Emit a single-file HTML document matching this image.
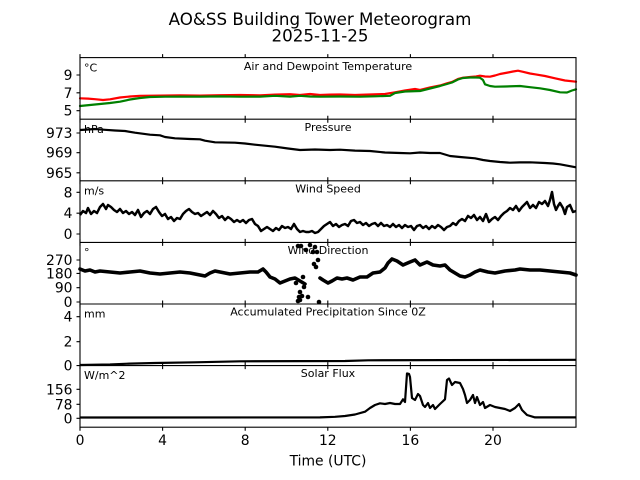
<!DOCTYPE html>
<html><head><meta charset="utf-8"><style>
html,body{margin:0;padding:0;background:#fff;}
svg{display:block;font-family:"DejaVu Sans","Liberation Sans",sans-serif;}
.t{font-size:13.9px;fill:#000;}
.s{font-size:11px;fill:#000;}
</style></head><body>
<svg width="640" height="480" viewBox="0 0 640 480" xmlns="http://www.w3.org/2000/svg">
<rect width="640" height="480" fill="#fff"/>
<text x="320" y="25" text-anchor="middle" style="font-size:16.7px">AO&amp;SS Building Tower Meteorogram</text>
<text x="320" y="41.7" text-anchor="middle" style="font-size:16.7px">2025-11-25</text>

<!-- Panel 1 temperature -->
<g fill="none" stroke-linejoin="round" stroke-linecap="round">
<polyline stroke="#ff0000" stroke-width="2.2" points="80,98.3 88,98.6 95,99.2 103,100 110,99.3 120,97.5 130,96.5 140,95.8 160,95.6 180,95.4 200,95.6 220,95.2 240,95 260,95.3 275,94.6 290,94.2 300,95 310,94 320,95 330,94.6 340,94.5 355,95 370,94.5 385,94 395,92.3 405,90.5 415,89 420,90 430,87.5 440,85.5 447,83.3 452,82 458,79 463,77.7 470,77 476,76.5 480,75.7 485,76.5 490,76.7 495,75.5 500,74 508,72.5 513,71.5 518,70.7 523,71.8 530,73.5 535,74.3 545,76 555,78.3 565,80.5 576,81.7"/>
<polyline stroke="#008000" stroke-width="2.2" points="80,106 90,105 100,104 110,103 120,101.7 130,99.5 140,98 150,97 165,96.7 180,96.6 200,96.6 220,96.4 240,96.7 260,96.6 275,95.8 290,96.6 300,95.8 310,96.5 320,96.7 340,96.5 360,96.7 375,96.3 390,95.8 395,93 405,91.5 420,91 430,88.5 440,86 447,84 452,82.5 458,79.5 463,78 470,77.5 476,77.5 480,77.7 483,80 485,84.3 490,86 495,86.7 505,86.5 520,86 530,87.2 540,88.3 550,90 560,92.3 567,92.5 572,90.5 576,89.3"/>
</g>

<!-- Panel 2 pressure -->
<polyline fill="none" stroke="#000" stroke-width="2.2" stroke-linejoin="round" points="80,130 88,129.5 95,129 105,129.8 115,130.5 125,131 135,132.7 150,134.7 160,135.3 165,137 175,138.3 190,139 200,139.3 205,140.7 215,142.3 235,142.7 245,143.5 255,144.7 265,145.7 275,146.7 288,148.5 300,150 315,149.5 330,150 340,149.7 355,150.6 370,151 385,152.5 400,153 410,153.3 420,152.5 430,153 440,153 445,154.5 450,156 460,157 475,158.3 483,160 490,161 500,162 510,162.7 520,162.4 530,162.3 545,163 553,163.5 560,164.3 568,165.8 576,167.3"/>

<!-- Panel 3 wind speed -->
<polyline fill="none" stroke="#000" stroke-width="2.5" stroke-linejoin="round" points="80,215 83,211 86,213 88,208 91,214 94,211 97,213 100,207 103,204 106,209 108,205 111,207 114,210 117,212 120,209 123,213 126,211 129,214 132,212 135,215 138,210 141,217 144,213 147,211 150,214 153,209 156,207 159,212 162,216 165,214 168,219 171,217 174,221 177,218 180,219 183,214 186,211 189,209 192,212 195,214 198,213 201,216 204,214 207,212 210,215 213,211 216,214 219,218 222,216 225,220 228,217 231,219 234,222 237,220 240,222 243,220 246,223 249,220 252,219 255,224 258,226 261,231 264,229 267,227 270,229 273,231 276,228 279,230 282,226 285,228 288,227 291,229 294,224 297,229 300,232 303,231 306,232 309,232 312,231 315,233 318,232 321,229 324,226 327,224 330,222 333,226 336,224 339,227 342,225 345,224 348,226 351,221 354,220 357,223 360,222 363,225 366,223 369,226 372,224 375,223 378,226 381,223 384,226 387,225 390,227 393,224 396,227 399,225 402,228 405,225 408,227 411,226 414,230 417,226 420,225 423,228 426,226 429,229 432,226 435,228 438,225 441,227 444,230 447,227 450,226 453,223 456,225 459,221 462,219 465,221 468,216 471,218 474,215 477,220 480,217 483,221 486,214 489,222 492,219 495,217 498,220 501,216 504,213 507,211 510,208 513,210 516,206 519,211 522,207 525,204 527,202 530,208 533,205 536,208 539,202 542,204 545,201 548,206 550,200 552,192 554,204 556,210 558,206 560,203 563,208 565,214 567,207 570,205 573,212 576,211"/>

<!-- Panel 4 wind direction -->
<g fill="none" stroke="#000" stroke-width="3.6" stroke-linejoin="round" stroke-linecap="round">
<polyline points="80,269 85,271 90,270 95,272 100,271 110,272 120,273 130,272 140,271 150,273 160,274 170,273 180,272 190,273 200,275 205,276 210,273 215,271 220,272 230,274 240,273 250,272 258,272 263,269 266,272 270,277 275,279 280,283 285,281 290,279 295,278 300,281 305,284"/>
<polyline points="320,278 323,280 328,283 332,281 337,278 342,279 347,278 353,280 360,277 367,277 373,273 380,272 385,268 388,263 392,259 397,261 403,265 410,262 415,260 420,265 427,262 433,265 440,266 445,265 450,270 455,273 460,276 465,277 470,275 475,272 480,270 488,272 495,273 505,271 515,270 520,269 530,270 540,270 550,271 560,272 570,273 576,275"/>
</g>
<g fill="#000">
<circle cx="298" cy="246" r="2.3"/><circle cx="301" cy="246" r="2.3"/><circle cx="303" cy="277" r="2.3"/>
<circle cx="300" cy="292" r="2.3"/><circle cx="304" cy="287" r="2.3"/><circle cx="299" cy="297" r="2.3"/>
<circle cx="300" cy="300" r="2.3"/><circle cx="298" cy="301" r="2.3"/><circle cx="308" cy="297" r="2.3"/>
<circle cx="313" cy="252" r="2.3"/><circle cx="315" cy="247" r="2.3"/><circle cx="317" cy="252" r="2.3"/>
<circle cx="316" cy="267" r="2.3"/><circle cx="318" cy="260" r="2.3"/><circle cx="319" cy="302" r="2.3"/>
<circle cx="310" cy="245" r="2.3"/><circle cx="306" cy="250" r="2.3"/><circle cx="302" cy="296" r="2.3"/>
<circle cx="314" cy="264" r="2.3"/><circle cx="296" cy="283" r="2.3"/>
</g>

<!-- Panel 5 precipitation -->
<polyline fill="none" stroke="#000" stroke-width="2.2" points="80,365 110,364.5 130,363.6 155,363 195,362.3 240,361.3 345,361 368,360.3 576,359.8"/>

<!-- Panel 6 solar -->
<polyline fill="none" stroke="#000" stroke-width="2.2" stroke-linejoin="round" points="80,417.5 320,417.4 335,416.8 345,416 355,414.5 365,411.7 370,408 375,405 380,403.3 385,404 390,403 395,404 400,404 403,399.3 405,402 407,373.5 409,374 410,377 412,398 415,400 418,394 420,396 423,405 425,407 428,403 430,408 433,405 435,409 440,404 445,399.3 447,380 449,378.5 452,385 455,382 460,383 463,389 465,395 467,403 470,400 473,395 475,403 477,397 480,405 483,402 485,408 490,405 495,407 500,408 505,409 510,411 515,408 519,404 522,410 527,415 535,417.4 576,417.4"/>

<!-- frames -->
<g fill="none" stroke="#000" stroke-width="1.1">
<rect x="80" y="57.6" width="496" height="369.6"/>
<line x1="80" y1="119.2" x2="576" y2="119.2"/>
<line x1="80" y1="180.8" x2="576" y2="180.8"/>
<line x1="80" y1="242.4" x2="576" y2="242.4"/>
<line x1="80" y1="304" x2="576" y2="304"/>
<line x1="80" y1="365.6" x2="576" y2="365.6"/>
</g>
<!-- x ticks -->
<g stroke="#000" stroke-width="1.1">
<path d="M80,54.1V57.6M162.6,54.1V57.6M245.2,54.1V57.6M327.8,54.1V57.6M410.4,54.1V57.6M493,54.1V57.6"/>
<path d="M80,115.7V122.7M162.6,115.7V122.7M245.2,115.7V122.7M327.8,115.7V122.7M410.4,115.7V122.7M493,115.7V122.7"/>
<path d="M80,177.3V184.3M162.6,177.3V184.3M245.2,177.3V184.3M327.8,177.3V184.3M410.4,177.3V184.3M493,177.3V184.3"/>
<path d="M80,238.9V245.9M162.6,238.9V245.9M245.2,238.9V245.9M327.8,238.9V245.9M410.4,238.9V245.9M493,238.9V245.9"/>
<path d="M80,300.5V307.5M162.6,300.5V307.5M245.2,300.5V307.5M327.8,300.5V307.5M410.4,300.5V307.5M493,300.5V307.5"/>
<path d="M80,362.1V369.1M162.6,362.1V369.1M245.2,362.1V369.1M327.8,362.1V369.1M410.4,362.1V369.1M493,362.1V369.1"/>
<path d="M80,427.2V430.7M162.6,427.2V430.7M245.2,427.2V430.7M327.8,427.2V430.7M410.4,427.2V430.7M493,427.2V430.7"/>
<!-- y ticks -->
<path d="M76.5,75H80M76.5,92.8H80M76.5,110.7H80"/>
<path d="M76.5,133H80M76.5,152.7H80M76.5,172.8H80"/>
<path d="M76.5,192.3H80M76.5,213.2H80M76.5,234H80"/>
<path d="M76.5,260H80M76.5,273.4H80M76.5,287.7H80M76.5,302H80"/>
<path d="M76.5,316.7H80M76.5,341.7H80M76.5,365.6H80"/>
<path d="M76.5,389.3H80M76.5,404.3H80M76.5,418.3H80"/>
</g>

<!-- y tick labels -->
<g class="t" text-anchor="end">
<text x="72.5" y="80">9</text><text x="72.5" y="97.8">7</text><text x="72.5" y="115.7">5</text>
<text x="72.5" y="138">973</text><text x="72.5" y="157.7">969</text><text x="72.5" y="177.8">965</text>
<text x="72.5" y="197.3">8</text><text x="72.5" y="218.2">4</text><text x="72.5" y="239">0</text>
<text x="72.5" y="265">270</text><text x="72.5" y="278.4">180</text><text x="72.5" y="292.7">90</text><text x="72.5" y="307">0</text>
<text x="72.5" y="321.7">4</text><text x="72.5" y="346.7">2</text><text x="72.5" y="370.6">0</text>
<text x="72.5" y="394.3">156</text><text x="72.5" y="409.3">78</text><text x="72.5" y="423.3">0</text>
</g>
<!-- x tick labels -->
<g class="t" text-anchor="middle">
<text x="80" y="445">0</text><text x="162.6" y="445">4</text><text x="245.2" y="445">8</text>
<text x="327.8" y="445">12</text><text x="410.4" y="445">16</text><text x="493" y="445">20</text>
<text x="328" y="465.5">Time (UTC)</text>
</g>

<!-- unit labels -->
<g class="s">
<text x="84" y="71.5">°C</text>
<text x="84" y="133">hPa</text>
<text x="84" y="194.5">m/s</text>
<text x="84" y="256">°</text>
<text x="84" y="317.5">mm</text>
<text x="84" y="379">W/m^2</text>
</g>
<!-- panel titles -->
<g class="s" text-anchor="middle">
<text x="328" y="70">Air and Dewpoint Temperature</text>
<text x="328" y="131">Pressure</text>
<text x="328" y="192.5">Wind Speed</text>
<text x="328" y="254">Wind Direction</text>
<text x="328" y="315.6">Accumulated Precipitation Since 0Z</text>
<text x="328" y="377.2">Solar Flux</text>
</g>
</svg>
</body></html>
